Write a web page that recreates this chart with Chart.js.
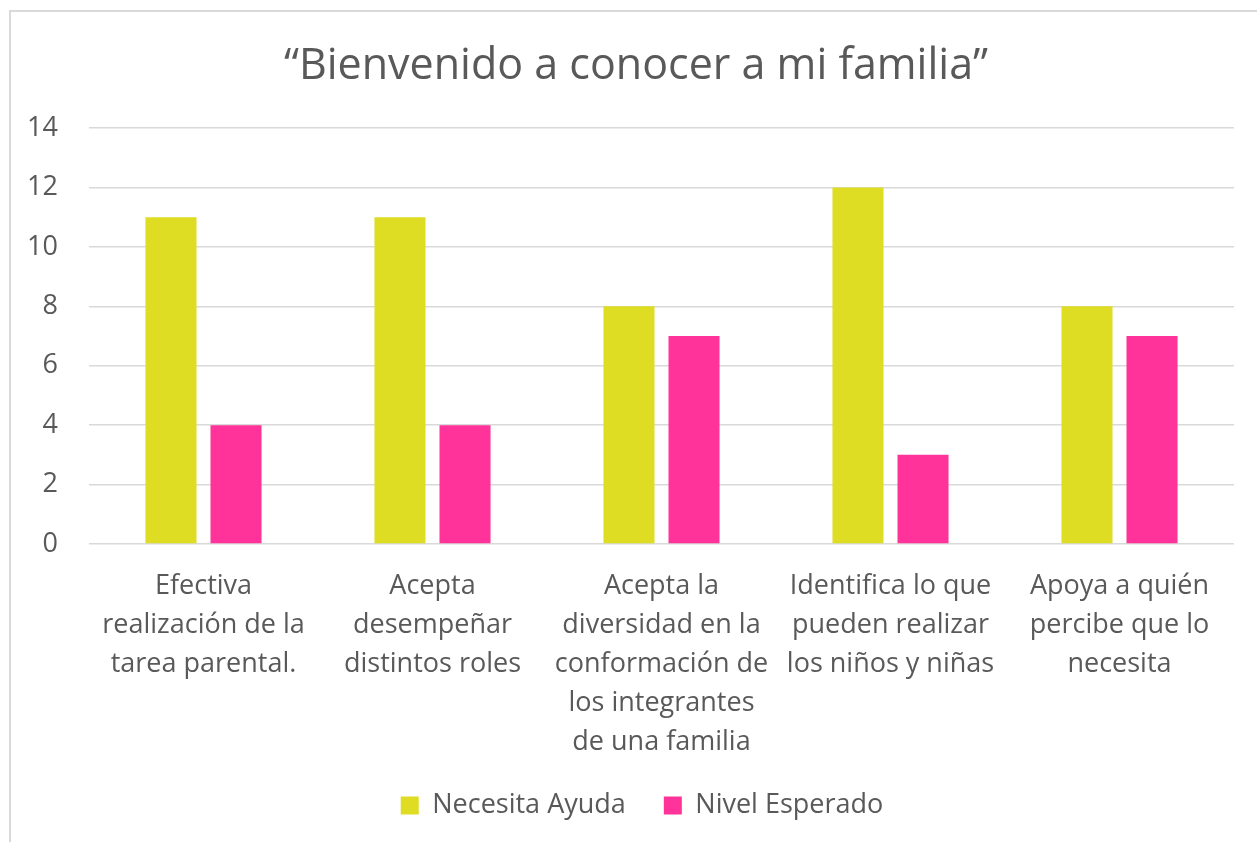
<!DOCTYPE html>
<html>
<head>
<meta charset="utf-8">
<script src="https://cdn.jsdelivr.net/npm/chart.js@4"></script>
<style>
  html, body { margin: 0; padding: 0; background: #fff; overflow: hidden; }
  #wrap { position: relative; width: 1257px; height: 842px; }
  #frame {
    position: absolute; left: 9px; top: 10px; width: 1300px; height: 900px;
    border-left: 2px solid #d9d9d9; border-top: 2px solid #d9d9d9;
    pointer-events: none;
  }
  canvas { position: absolute; left: 0; top: 0; }
</style>
</head>
<body>
<div id="wrap">
  <canvas id="chart" width="1257" height="842"></canvas>
  <div id="frame"></div>
</div>
<script>
// Chart data
const categories = [
  ["Efectiva", "realización de la", "tarea parental."],
  ["Acepta", "desempeñar", "distintos roles"],
  ["Acepta la", "diversidad en la", "conformación de", "los integrantes", "de una familia"],
  ["Identifica lo que", "pueden realizar", "los niños y niñas"],
  ["Apoya a quién", "percibe que lo", "necesita"]
]
const necesitaAyuda = [11, 11, 8, 12, 8]
const nivelEsperado = [4, 4, 7, 3, 7]
const seriesNames = ["Necesita Ayuda", "Nivel Esperado"]
const chartTitle = "“Bienvenido a conocer a mi familia”"

const textColor = "#595959"
const fontFamily = "'Open Sans', 'Noto Sans', sans-serif"

// nudge legend and title to the right so they sit centred like the original
const boxShift = {
  id: "boxShift",
  afterLayout(chart) {
    const legend = chart.legend
    if (legend) {
      legend.left += 20
      legend.right += 20
      if (legend.legendHitBoxes) legend.legendHitBoxes.forEach((b) => (b.left += 20))
    }
    const title = chart.titleBlock
    if (title) {
      title.left += 14
      title.right += 14
    }
  },
}

new Chart(document.getElementById("chart"), {
  type: "bar",
  data: {
    labels: categories,
    datasets: [
      {
        label: seriesNames[0],
        data: necesitaAyuda,
        backgroundColor: "#dedc23",
        categoryPercentage: 0.568,
        barPercentage: 0.785,
      },
      {
        label: seriesNames[1],
        data: nivelEsperado,
        backgroundColor: "#ff3399",
        categoryPercentage: 0.568,
        barPercentage: 0.785,
      },
    ],
  },
  options: {
    responsive: false,
    animation: false,
    layout: {
      padding: { left: 10, right: 23, top: 0, bottom: 13 },
    },
    plugins: {
      title: {
        display: true,
        text: chartTitle,
        color: textColor,
        font: { family: fontFamily, size: 43, weight: "normal", lineHeight: 1.2 },
        padding: { top: 41, bottom: 35.4 },
      },
      legend: {
        position: "bottom",
        labels: {
          color: textColor,
          boxWidth: 18,
          boxHeight: 18,
          padding: 38,
          font: { family: fontFamily, size: 27 },
        },
      },
      tooltip: { enabled: false },
    },
    scales: {
      x: {
        grid: { display: false, drawTicks: false },
        border: { display: false },
        ticks: {
          color: textColor,
          padding: 23,
          maxRotation: 0,
          autoSkip: false,
          font: { family: fontFamily, size: 27, lineHeight: 1.44 },
        },
        afterFit: (scale) => {
          scale.height = 210
        },
      },
      y: {
        min: 0,
        max: 14,
        grid: { color: "#d9d9d9", lineWidth: 1.5, drawTicks: false },
        border: { display: false },
        ticks: {
          stepSize: 2,
          color: textColor,
          padding: 31,
          font: { family: fontFamily, size: 27 },
        },
        afterFit: (scale) => {
          scale.width = 79
        },
      },
    },
  },
  plugins: [boxShift],
})
</script>
</body>
</html>
